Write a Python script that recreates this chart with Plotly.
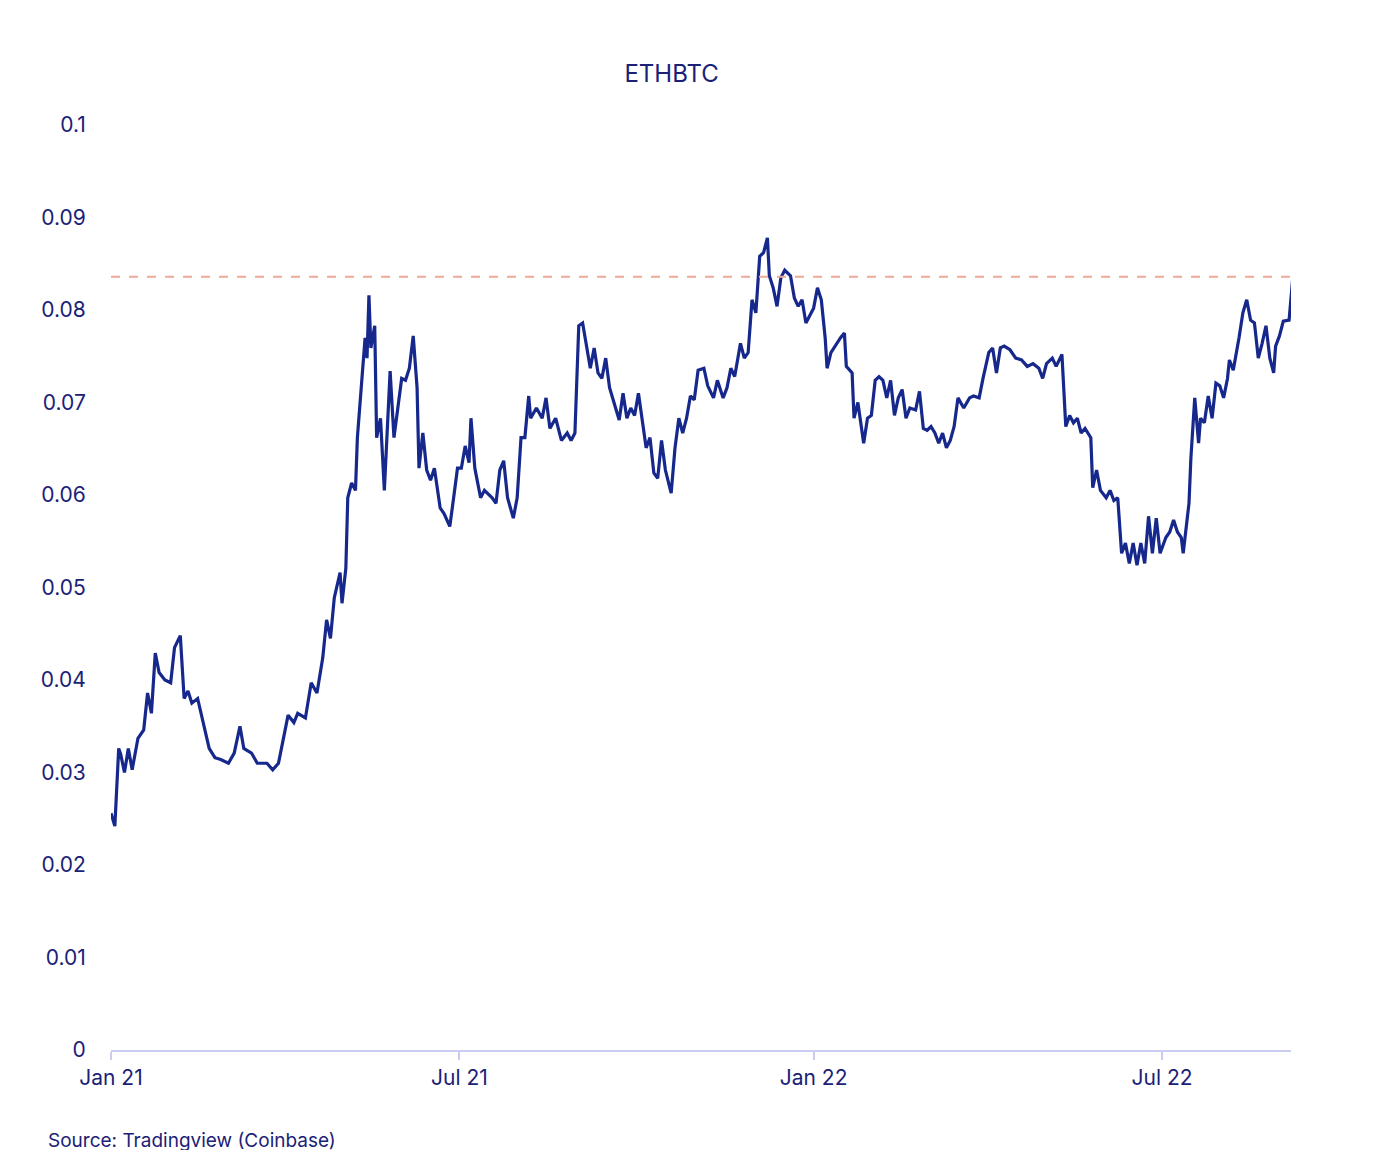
import pandas as pd
import plotly.graph_objects as go

start = "2021-01-01"
day_offsets = [0,2,4,5,7,9,11,14,17,19,21,23,25,28,31,33,36,38,40,42,45,48,51,54,57,61,64,67,69,73,76,81,84,87,89,92,95,97,101,104,107,110,112,114,116,119,120,122,123,125,127,128,130,132,133,134,135,137,138,140,142,144,145,147,149,151,153,155,157,159,160,162,164,166,168,171,173,176,178,180,182,184,186,187,189,192,194,198,200,202,204,206,209,211,213,215,217,218,221,224,226,228,231,234,237,239,241,243,245,247,249,251,253,255,257,259,262,264,266,268,270,272,274,276,278,280,282,284,286,288,291,293,295,297,299,301,303,305,308,310,313,315,318,320,322,324,327,329,331,333,335,337,339,341,342,344,346,348,350,353,355,357,359,361,363,365,367,369,371,372,374,377,379,381,382,385,386,388,391,393,395,397,399,401,403,405,407,409,411,413,415,418,420,422,424,426,428,430,432,434,436,438,440,443,446,448,451,453,456,458,460,462,464,467,470,473,476,479,482,484,486,489,491,494,496,498,500,502,504,506,509,510,512,514,517,519,521,523,525,527,529,531,533,535,537,539,541,543,545,548,550,552,554,556,557,560,561,563,565,566,568,570,572,574,576,578,580,581,583,586,588,590,592,594,596,598,600,602,604,605,607,609,612,614]
ethbtc = [0.0256,0.0242,0.0326,0.032,0.030,0.0326,0.0303,0.0337,0.0346,0.0386,0.0364,0.0429,0.0408,0.040,0.0397,0.0435,0.0448,0.038,0.0388,0.0375,0.038,0.0354,0.0326,0.0316,0.0314,0.031,0.0321,0.035,0.0326,0.0321,0.031,0.031,0.0303,0.031,0.0332,0.0362,0.0354,0.0364,0.0359,0.0397,0.0386,0.0424,0.0465,0.0445,0.0489,0.0516,0.0483,0.0521,0.0597,0.0613,0.0605,0.0662,0.0716,0.077,0.0748,0.0816,0.0759,0.0783,0.0662,0.0683,0.0605,0.0694,0.0734,0.0662,0.0694,0.0726,0.0724,0.0737,0.0772,0.0716,0.0629,0.0667,0.0627,0.0616,0.0629,0.0586,0.058,0.0566,0.0597,0.0629,0.0629,0.0653,0.0635,0.0683,0.0629,0.0597,0.0605,0.0597,0.0591,0.0627,0.0637,0.0597,0.0575,0.0597,0.0662,0.0662,0.0707,0.0683,0.0694,0.0683,0.0705,0.0672,0.0683,0.0659,0.0667,0.0659,0.0667,0.0783,0.0786,0.0759,0.0737,0.0759,0.0732,0.0726,0.0748,0.0716,0.0694,0.0681,0.0710,0.0683,0.0694,0.0686,0.071,0.0683,0.0651,0.0662,0.0624,0.0618,0.0659,0.0627,0.0602,0.0651,0.0683,0.0667,0.0683,0.0707,0.0703,0.0735,0.0737,0.0718,0.0705,0.0724,0.0705,0.0716,0.0737,0.0728,0.0764,0.0748,0.0754,0.0811,0.0797,0.0858,0.0862,0.0878,0.0837,0.0824,0.0804,0.0835,0.0843,0.0837,0.0813,0.0804,0.0811,0.0786,0.0794,0.0802,0.0824,0.0811,0.077,0.0737,0.0754,0.0764,0.077,0.0775,0.0739,0.0732,0.0683,0.07,0.0656,0.0683,0.0686,0.0724,0.0728,0.0724,0.0705,0.0724,0.0686,0.0705,0.0714,0.0683,0.0694,0.0692,0.0712,0.0672,0.0670,0.0674,0.0667,0.0656,0.0667,0.0651,0.0659,0.0674,0.0705,0.0694,0.0705,0.0707,0.0705,0.0726,0.0754,0.0759,0.0732,0.0759,0.0761,0.0757,0.0748,0.0746,0.0739,0.0742,0.0737,0.0726,0.0742,0.0748,0.0739,0.0752,0.0674,0.0686,0.0678,0.0683,0.0667,0.0672,0.0662,0.0608,0.0627,0.0605,0.0597,0.0605,0.0594,0.0597,0.0537,0.0548,0.0526,0.0548,0.0524,0.0548,0.0526,0.0577,0.0537,0.0575,0.0537,0.0554,0.056,0.0573,0.056,0.0554,0.0537,0.0591,0.064,0.0705,0.0656,0.0683,0.0678,0.0707,0.0683,0.0721,0.0718,0.0705,0.0726,0.0746,0.0735,0.077,0.0797,0.0811,0.0789,0.0786,0.0748,0.0764,0.0783,0.0748,0.0732,0.0761,0.0772,0.0788,0.0789,0.0837]
reference_level = 0.0836
tick_dates = ["2021-01-01", "2021-07-01", "2022-01-01", "2022-07-01"]
tick_labels = ["Jan 21", "Jul 21", "Jan 22", "Jul 22"]
end_date = "2022-09-06"

dates = pd.Timestamp(start) + pd.to_timedelta(day_offsets, unit="D")
navy = "#1b2177"
font = "Inter, Roboto, sans-serif"

fig = go.Figure()
fig.add_trace(go.Scatter(x=dates, y=ethbtc, mode="lines",
                         line=dict(color="#16288c", width=3.2), showlegend=False))
fig.add_trace(go.Scatter(x=[start, end_date], y=[reference_level]*2, mode="lines",
                         line=dict(color="#f2a896", width=2, dash="dash"), showlegend=False))

fig.update_layout(
    width=1374, height=1150, plot_bgcolor="white", paper_bgcolor="white",
    margin=dict(l=103, r=91, t=117, b=108),
    font=dict(family=font, color=navy, size=21),
    title=dict(text="ETHBTC", x=0.483, xanchor="center", y=0.943, yanchor="middle",
               font=dict(size=24, color=navy, family=font)),
    xaxis=dict(range=[start, end_date], tickvals=tick_dates, ticktext=tick_labels,
               showgrid=False, zeroline=False, showline=True, linecolor="#c9cdf2", linewidth=2,
               ticks="outside", tickcolor="#c9cdf2", ticklen=8, tickwidth=2),
    yaxis=dict(range=[0, 0.1], dtick=0.01, showgrid=False, zeroline=False, showline=False,
               ticks="outside", ticklen=20, tickcolor="rgba(0,0,0,0)"),
    annotations=[dict(text="Source: Tradingview (Coinbase)", xref="paper", yref="paper",
                      x=-0.055, y=-0.098, xanchor="left", yanchor="middle", showarrow=False,
                      font=dict(size=19, color=navy, family=font))],
)
fig.write_html("out.html")
